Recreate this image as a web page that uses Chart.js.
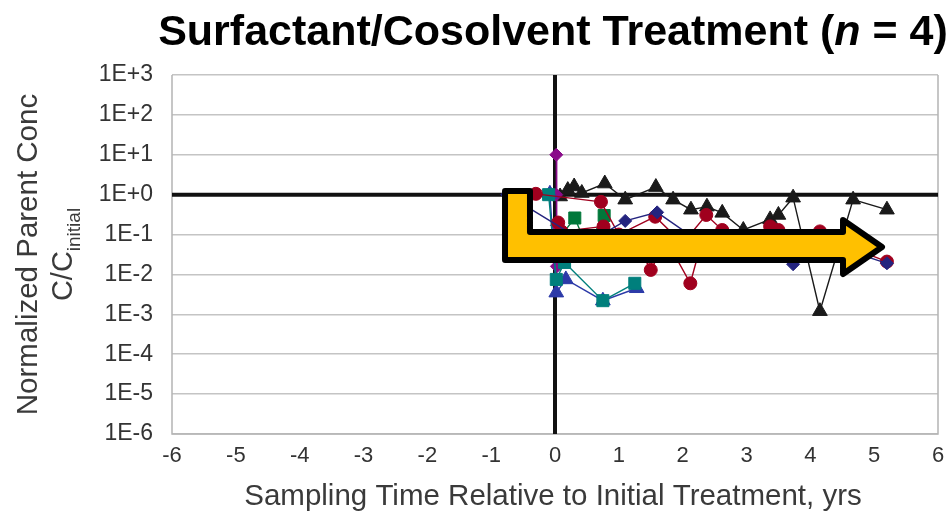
<!DOCTYPE html>
<html>
<head>
<meta charset="utf-8">
<script src="https://cdn.jsdelivr.net/npm/chart.js@4/dist/chart.umd.min.js"></script>
<style>
  html, body { margin: 0; padding: 0; background: #ffffff; }
  #wrap { width: 949px; height: 511px; position: relative; }
</style>
</head>
<body>
<div id="wrap"><canvas id="c" width="949" height="511"></canvas></div>
<script>
// ---- Data ----
const titleText = 'Surfactant/Cosolvent Treatment (';
const xTitle = 'Sampling Time Relative to Initial Treatment, yrs';
const yTitle1 = 'Normalized Parent Conc';
const yTitle2 = 'C/C';
const yTitleSub = 'initial';

const xTickValues = [-6, -5, -4, -3, -2, -1, 0, 1, 2, 3, 4, 5, 6];
const yTickExponents = [-6, -5, -4, -3, -2, -1, 0, 1, 2, 3];
const yTickLabels = ['1E-6', '1E-5', '1E-4', '1E-3', '1E-2', '1E-1', '1E+0', '1E+1', '1E+2', '1E+3'];

// navy diamonds
const navyX = [-0.75, 0.5, 1.1, 1.6, 2.3, 3.0, 3.73, 4.4, 5.2];
const navyY = [1.0, 0.06, 0.22, 0.36, 0.06, 0.05, 0.018, 0.05, 0.019];
// dark red circles (two wells)
const redAX = [-0.3, 0.72, 1.0, 1.57, 2.0, 2.37, 2.62, 3.0, 3.37, 3.73, 4.15, 4.6, 5.2];
const redAY = [1.05, 0.66, 0.1, 0.28, 0.06, 0.31, 0.13, 0.07, 0.16, 0.05, 0.12, 0.05, 0.021];
const redBX = [0.05, 0.1, 0.76, 1.3, 1.5, 1.75, 2.12, 2.3, 2.9, 3.5];
const redBY = [0.2, 0.12, 0.16, 0.05, 0.013, 0.07, 0.006, 0.07, 0.05, 0.13];
// green squares
const greenX = [0.0, 0.31, 0.5, 0.77, 0.95];
const greenY = [0.06, 0.26, 0.05, 0.3, 0.06];
// teal squares
const tealX = [-0.1, 0.02, 0.15, 0.75, 1.25];
const tealY = [1.0, 0.0075, 0.02, 0.0022, 0.006];
// blue triangles
const blueX = [-0.08, 0.02, 0.17, 0.75, 1.28];
const blueY = [1.05, 0.0035, 0.0075, 0.0022, 0.0045];
// purple diamonds
const purpleX = [0.02, 0.02, 0.03, 0.03];
const purpleY = [10, 1.0, 0.17, 0.016];
// black triangles
const blackX = [0.08, 0.2, 0.3, 0.42, 0.78, 1.1, 1.58, 1.85, 2.13, 2.38, 2.62, 2.95, 3.37, 3.5, 3.73, 4.15, 4.67, 5.2];
const blackY = [0.9, 1.3, 1.6, 1.1, 1.9, 0.75, 1.55, 0.75, 0.42, 0.5, 0.35, 0.13, 0.24, 0.31, 0.84, 0.0012, 0.75, 0.42];

// annotation arrow outline, in data units
const arrowX = [-0.783, -0.392, -0.392, 4.512, 4.512, 5.123, 4.512, 4.512, -0.783];
const arrowY = [1.236, 1.236, 0.116, 0.116, 0.232, 0.0488, 0.01026, 0.023, 0.023];

const pts = (xs, ys) => xs.map((x, i) => ({ x: x, y: ys[i] }));

function series(label, xs, ys, color, style, radius) {
  return {
    label: label,
    data: pts(xs, ys),
    showLine: true,
    borderColor: color,
    backgroundColor: color,
    borderWidth: 1.4,
    pointStyle: style,
    pointRadius: radius,
    pointHoverRadius: radius,
    pointBorderWidth: 1,
    pointBorderColor: color,
    pointBackgroundColor: color,
    tension: 0
  };
}

const datasets = [
  series('Site A', navyX, navyY, '#24247f', 'rectRot', 6.5),
  series('Site B-1', redAX, redAY, '#a0001e', 'circle', 6.5),
  series('Site B-2', redBX, redBY, '#a0001e', 'circle', 6.5),
  series('Site C-1', greenX, greenY, '#00783a', 'rect', 8.5),
  series('Site C-2', tealX, tealY, '#007f7c', 'rect', 8.5),
  series('Site C-3', blueX, blueY, '#2c3aa8', 'triangle', 8.5),
  series('Site D-1', purpleX, purpleY, '#8a0c8a', 'rectRot', 6.5),
  series('Site D-2', blackX, blackY, '#1a1a1a', 'triangle', 8.5)
];

const refLines = {
  id: 'refLines',
  beforeDatasetsDraw(chart) {
    const { ctx, chartArea: a, scales } = chart;
    ctx.save();
    // plot frame (left, bottom, right)
    ctx.strokeStyle = '#b4b4b4';
    ctx.lineWidth = 1.5;
    ctx.beginPath();
    ctx.moveTo(a.left, a.top);
    ctx.lineTo(a.left, a.bottom);
    ctx.lineTo(a.right, a.bottom);
    ctx.lineTo(a.right, a.top);
    ctx.stroke();
    // thick reference lines at t = 0 and C/C0 = 1
    ctx.strokeStyle = '#111111';
    ctx.lineWidth = 4;
    const x0 = scales.x.getPixelForValue(0);
    const y1 = scales.y.getPixelForValue(1);
    ctx.beginPath();
    ctx.moveTo(x0, a.top);
    ctx.lineTo(x0, a.bottom);
    ctx.moveTo(a.left, y1);
    ctx.lineTo(a.right, y1);
    ctx.stroke();
    ctx.restore();
  },
  afterDatasetsDraw(chart) {
    const { ctx, scales } = chart;
    ctx.save();
    ctx.beginPath();
    arrowX.forEach((x, i) => {
      const px = scales.x.getPixelForValue(x);
      const py = scales.y.getPixelForValue(arrowY[i]);
      if (i === 0) ctx.moveTo(px, py); else ctx.lineTo(px, py);
    });
    ctx.closePath();
    ctx.fillStyle = '#ffc000';
    ctx.fill();
    ctx.lineJoin = 'round';
    ctx.lineWidth = 6;
    ctx.strokeStyle = '#000000';
    ctx.stroke();
    ctx.restore();
  },
  afterDraw(chart) {
    const { ctx, chartArea: a } = chart;
    ctx.save();
    // Title
    ctx.fillStyle = '#000000';
    ctx.textBaseline = 'alphabetic';
    ctx.textAlign = 'left';
    const fB = 'bold 43px "Liberation Sans", Arial, sans-serif';
    const fBI = 'italic bold 43px "Liberation Sans", Arial, sans-serif';
    ctx.font = fB;
    const w1 = ctx.measureText(titleText).width;
    ctx.font = fBI;
    const w2 = ctx.measureText('n').width;
    ctx.font = fB;
    const w3 = ctx.measureText(' = 4)').width;
    let tx = 553 - (w1 + w2 + w3) / 2;
    const ty = 45;
    ctx.fillText(titleText, tx, ty);
    ctx.font = fBI;
    ctx.fillText('n', tx + w1, ty);
    ctx.font = fB;
    ctx.fillText(' = 4)', tx + w1 + w2, ty);

    // X axis title
    ctx.fillStyle = '#3a3a3a';
    ctx.font = '29.5px "Liberation Sans", Arial, sans-serif';
    ctx.textAlign = 'center';
    ctx.fillText(xTitle, 553, 505);

    // Y axis title (rotated)
    const cy = (a.top + a.bottom) / 2;
    ctx.translate(0, cy);
    ctx.rotate(-Math.PI / 2);
    ctx.textAlign = 'center';
    ctx.font = '29.5px "Liberation Sans", Arial, sans-serif';
    ctx.fillText(yTitle1, 0, 37);
    ctx.font = '29px "Liberation Sans", Arial, sans-serif';
    const wc = ctx.measureText(yTitle2).width;
    ctx.font = '19px "Liberation Sans", Arial, sans-serif';
    const ws = ctx.measureText(yTitleSub).width;
    const start = -(wc + ws) / 2;
    ctx.textAlign = 'left';
    ctx.font = '29px "Liberation Sans", Arial, sans-serif';
    ctx.fillText(yTitle2, start, 72);
    ctx.font = '19px "Liberation Sans", Arial, sans-serif';
    ctx.fillText(yTitleSub, start + wc, 80);
    ctx.restore();
  }
};

new Chart(document.getElementById('c'), {
  type: 'scatter',
  data: { datasets: datasets },
  plugins: [refLines],
  options: {
    responsive: false,
    animation: false,
    events: [],
    layout: { padding: { left: 0, top: 75, right: 11, bottom: 0 } },
    plugins: {
      legend: { display: false },
      title: { display: false },
      tooltip: { enabled: false }
    },
    scales: {
      x: {
        type: 'linear',
        min: -6,
        max: 6,
        afterBuildTicks: (s) => { s.ticks = xTickValues.map(v => ({ value: v })); },
        afterFit: (s) => { s.height = 77; s.paddingLeft = 0; s.paddingRight = 0; },
        grid: { display: false, drawTicks: false },
        border: { display: false },
        ticks: {
          padding: 9,
          color: '#333333',
          font: { family: '"Liberation Sans", Arial, sans-serif', size: 22 },
          callback: (v) => String(v)
        }
      },
      y: {
        type: 'logarithmic',
        min: 1e-6,
        max: 1e3,
        afterBuildTicks: (s) => { s.ticks = yTickExponents.map(e => ({ value: Math.pow(10, e) })); },
        afterFit: (s) => { s.width = 172; s.paddingTop = 0; s.paddingBottom = 0; },
        grid: { color: '#c4c4c4', lineWidth: 1.5, drawTicks: false },
        border: { display: false },
        ticks: {
          padding: 19,
          color: '#333333',
          font: { family: '"Liberation Sans", Arial, sans-serif', size: 23 },
          callback: (v) => yTickLabels[yTickExponents.indexOf(Math.round(Math.log10(v)))]
        }
      }
    }
  }
});
</script>
</body>
</html>
